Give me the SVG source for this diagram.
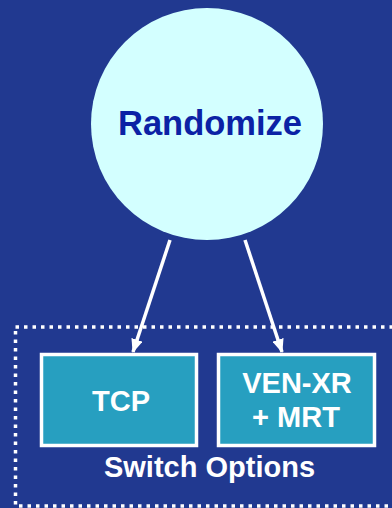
<svg xmlns="http://www.w3.org/2000/svg" width="392" height="508" viewBox="0 0 392 508">
<defs>
<style>
.lbl{font-family:"Liberation Sans",Arial,sans-serif;font-weight:bold;font-size:29px;fill:#ffffff;text-anchor:middle}
.box{fill:#279fc0;stroke:#ffffff;stroke-width:3.5}
.conn{stroke:#ffffff;stroke-width:3.5;fill:none}
</style>
<marker id="ah" viewBox="0 0 12 10" refX="11" refY="5" markerWidth="4" markerHeight="3.4" markerUnits="strokeWidth" orient="auto">
<path d="M0,0 L12,5 L0,10 z" fill="#ffffff"/>
</marker>
</defs>
<rect width="392" height="508" fill="#213990"/>
<g id="switch-options">
<rect x="15.5" y="327" width="390" height="179" fill="none" stroke="#ffffff" stroke-width="3.5" stroke-dasharray="3.5 5"/>
<text class="lbl" x="209.5" y="477">Switch Options</text>
</g>
<g id="randomize">
<circle cx="207" cy="124" r="116" fill="#d3ffff"/>
<text x="210" y="135" font-family="Liberation Sans,Arial,sans-serif" font-weight="bold" font-size="34.5" fill="#0b22a5" text-anchor="middle">Randomize</text>
</g>
<g id="tcp">
<rect class="box" x="41.5" y="354.5" width="155" height="91"/>
<text class="lbl" x="121" y="411">TCP</text>
</g>
<g id="ven-xr">
<rect class="box" x="218.5" y="354.5" width="156" height="91"/>
<text class="lbl" x="297" y="393">VEN-XR</text>
<text class="lbl" x="296" y="427">+ MRT</text>
</g>
<g id="connectors">
<line class="conn" x1="170" y1="240" x2="133" y2="352" marker-end="url(#ah)"/>
<line class="conn" x1="245" y1="240" x2="282" y2="352" marker-end="url(#ah)"/>
</g>
</svg>
